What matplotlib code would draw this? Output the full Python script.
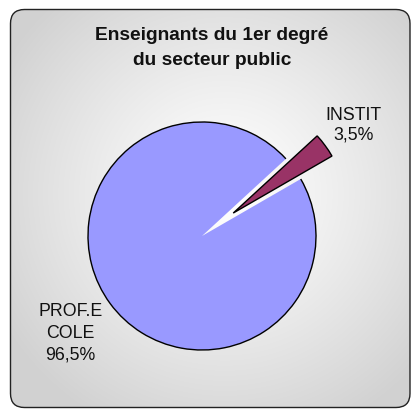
import numpy as np
import matplotlib.pyplot as plt
from matplotlib.patches import FancyBboxPatch, Arc

labels = ['INSTIT', 'PROF.E\nCOLE']
values = [3.5, 96.5]
pct_text = ['3,5%', '96,5%']
colors = ['#993366', '#9999FF']
title = 'Enseignants du 1er degré\ndu secteur public'

plt.rcParams['font.family'] = ['Liberation Sans', 'DejaVu Sans']

W, H = 411, 410
fig = plt.figure(figsize=(W / 100, H / 100), dpi=100)
ax = fig.add_axes([0, 0, 1, 1])

# frame with radial gradient fill
box = FancyBboxPatch((10.5, 1.5), 399.5, 398, boxstyle='round,pad=0,rounding_size=14',
                     facecolor='none', edgecolor='#222222', linewidth=1.0, zorder=3)
ax.add_patch(box)
gx, gy = np.meshgrid(np.linspace(0, W, 300), np.linspace(0, H, 300))
d = np.sqrt((gx - 225) ** 2 + (gy - 215) ** 2) / 260
shade = 1 - 0.18 * np.clip(d, 0, 1) ** 1.2
img = ax.imshow(np.dstack([shade, shade, shade]), extent=(0, W, 0, H), origin='lower',
                zorder=0, interpolation='bilinear')
img.set_clip_path(box)

cx, cy, r = 202, 173, 114
wedges, _ = ax.pie(values, colors=colors, startangle=30, explode=[0.34 * r, 0],
                   center=(cx, cy), radius=r, frame=True,
                   wedgeprops=dict(linewidth=1.0, edgecolor='black'))
ax.set_xlim(0, W)
ax.set_ylim(0, H)
ax.axis('off')
wedges[1].set_edgecolor('none')
ax.add_patch(Arc((cx, cy), 2 * r, 2 * r, theta1=wedges[1].theta1, theta2=wedges[1].theta2,
                 color='black', linewidth=1.0, zorder=wedges[1].get_zorder() + 1))

dists = [1.65, 1.43]
spacing = [1.2, 1.35]
for w, lab, pct, dist, ls in zip(wedges, labels, pct_text, dists, spacing):
    a = np.deg2rad((w.theta1 + w.theta2) / 2)
    ax.text(cx + dist * r * np.cos(a), cy + dist * r * np.sin(a), lab + '\n' + pct,
            ha='center', va='center', fontsize=12.8, linespacing=ls, color='#111111')

ax.text(212, 362, title, ha='center', va='center', fontsize=13.8, fontweight='bold',
        linespacing=1.6, color='#111111')

fig.savefig('out.png', dpi=100)
